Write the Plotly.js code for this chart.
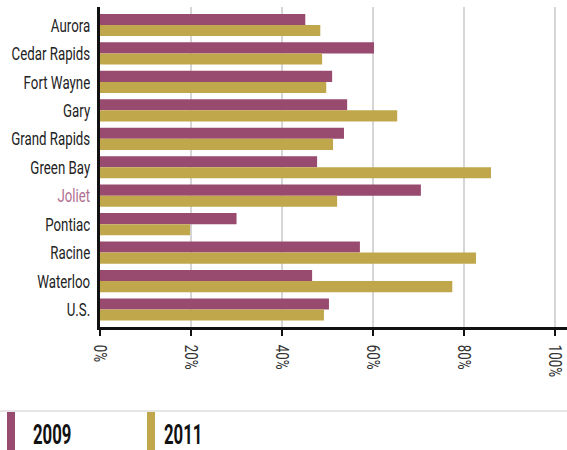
<!DOCTYPE html>
<html><head><meta charset="utf-8">
<script src="https://cdn.plot.ly/plotly-3.0.1.min.js"></script>
<style>html,body{margin:0;padding:0;background:#fff;}</style>
</head><body>
<div id="chart" style="width:567px;height:450px;"></div>
<script>
var cities = ["Aurora","Cedar Rapids","Fort Wayne","Gary","Grand Rapids","Green Bay","Joliet","Pontiac","Racine","Waterloo","U.S."];
var values2009 = [45.1, 60.2, 51.0, 54.3, 53.6, 47.7, 70.5, 30.0, 57.1, 46.6, 50.3];
var values2011 = [48.4, 48.8, 49.7, 65.3, 51.2, 85.9, 52.1, 19.8, 82.6, 77.4, 49.2];
var xTicks = [0, 20, 40, 60, 80, 100];
var xTickLabels = ["0%","20%","40%","60%","80%","100%"];
var legendLabels = ["2009", "2011"];
var highlight = "Joliet";

var FONT = "Roboto, 'Liberation Sans', sans-serif";
var C09 = "#984a6f", C11 = "#c1a74b";

var tickText = cities.map(function(c){
  return c === highlight ? '<span style="color:#b0708f">' + c + '</span>' : c;
});

var traces = [
  {type:'bar', orientation:'h', name:legendLabels[0], y:cities, x:values2009, marker:{color:C09}, hoverinfo:'x+y'},
  {type:'bar', orientation:'h', name:legendLabels[1], y:cities, x:values2011, marker:{color:C11}, hoverinfo:'x+y'}
];

function px(x){ return (x-100)/467; }
function py(y){ return (327-y)/320; }

var layout = {
  width:567, height:450,
  margin:{l:100, r:0, t:7, b:123, pad:0},
  paper_bgcolor:'#fff', plot_bgcolor:'#fff',
  showlegend:false,
  barmode:'group', bargap:0.22, bargroupgap:0,
  font:{family:FONT, size:18, color:'#222'},
  xaxis:{
    range:[0, 102.6], tickvals:xTicks, ticktext:xTickLabels, tickangle:90,
    showgrid:true, gridcolor:'#d6d6d6', gridwidth:1.5, zeroline:false,
    showline:true, linecolor:'#111', linewidth:3,
    ticks:'outside', ticklen:6, tickwidth:2.5, tickcolor:'#111',
    ticklabelstandoff:5,
    tickfont:{family:FONT, size:19, color:'#333'}, fixedrange:true
  },
  yaxis:{
    type:'category', categoryorder:'array', categoryarray:cities,
    tickvals:cities, ticktext:tickText,
    range:[10.615, -0.633], showgrid:false, zeroline:false,
    showline:true, linecolor:'#111', linewidth:3, ticks:'', ticklen:0,
    ticklabelstandoff:3,
    tickfont:{family:FONT, size:19, color:'#222'}, fixedrange:true
  },
  shapes:[
    {type:'line', xref:'paper', yref:'paper', x0:px(0), x1:px(567), y0:py(411), y1:py(411), line:{color:'#dcdcdc', width:1.5}},
    {type:'rect', xref:'paper', yref:'paper', x0:px(7), x1:px(15), y0:py(412), y1:py(452), fillcolor:C09, line:{width:0}},
    {type:'rect', xref:'paper', yref:'paper', x0:px(147), x1:px(155), y0:py(412), y1:py(452), fillcolor:C11, line:{width:0}}
  ],
  annotations:[
    {xref:'paper', yref:'paper', x:px(31), y:py(435), xanchor:'left', yanchor:'middle', showarrow:false, height:24, text:'<b>'+legendLabels[0]+'</b>', font:{family:FONT, size:27, color:'#111'}},
    {xref:'paper', yref:'paper', x:px(162), y:py(435), xanchor:'left', yanchor:'middle', showarrow:false, height:24, text:'<b>'+legendLabels[1]+'</b>', font:{family:FONT, size:27, color:'#111'}}
  ]
};

// horizontally condense text (to imitate a condensed typeface), keeping its anchor fixed
function condense(selector, s, anchorMode){
  document.querySelectorAll(selector).forEach(function(t){
    var b = t.getBBox();
    var a = t.getAttribute('text-anchor') || 'start';
    var mode = anchorMode || a;
    var ax = mode === 'end' ? b.x + b.width : (mode === 'middle' ? b.x + b.width/2 : b.x);
    var tr = t.getAttribute('transform') || '';
    t.setAttribute('transform', tr + ' translate(' + ax + ',0) scale(' + s + ',1) translate(' + (-ax) + ',0)');
  });
}

Plotly.newPlot('chart', traces, layout, {displayModeBar:false, staticPlot:true}).then(function(){
  condense('#chart .ytick text', 0.7);
  condense('#chart .xtick text', 0.7);
  condense('#chart .annotation-text', 0.62, 'start');
});
</script>
</body></html>
